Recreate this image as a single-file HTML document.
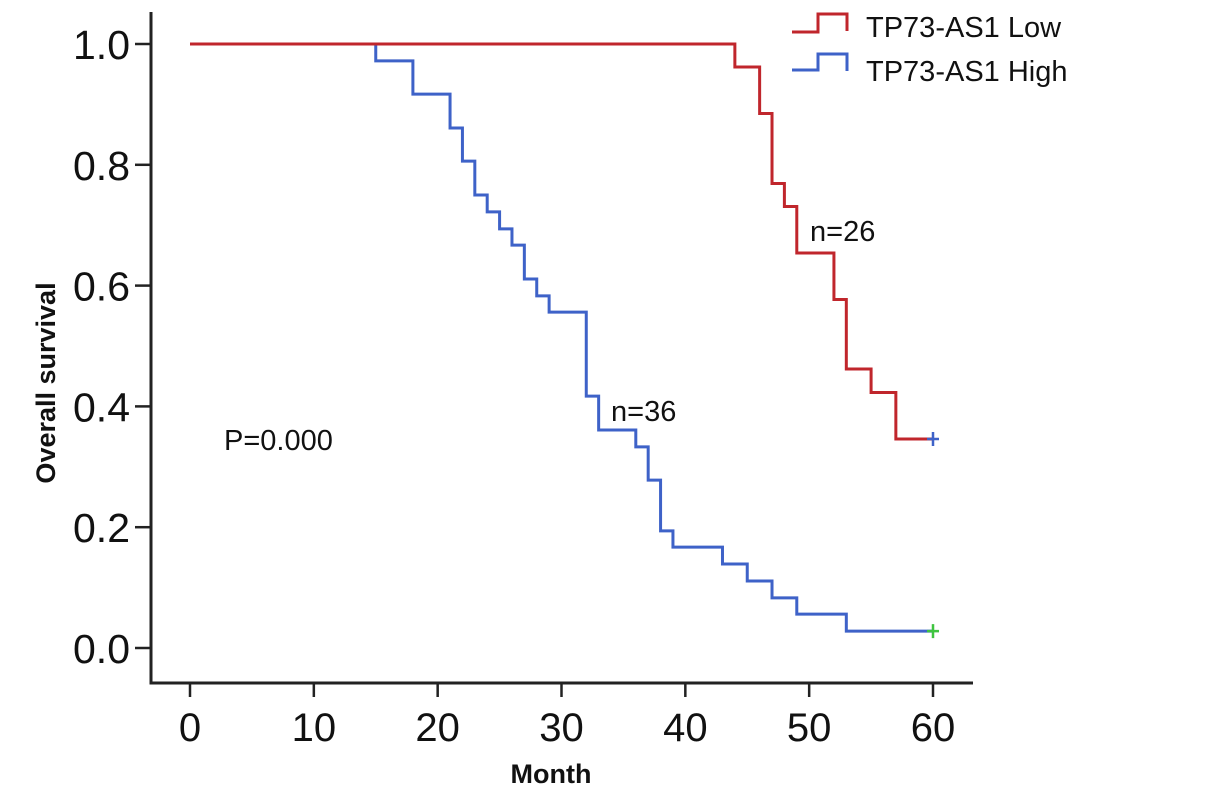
<!DOCTYPE html>
<html><head><meta charset="utf-8"><style>
html,body{margin:0;padding:0;background:#fff;}
svg text{font-family:"Liberation Sans",Arial,sans-serif;fill:#111;}
</style></head><body>
<svg id="chart" width="1205" height="796" viewBox="0 0 1205 796" xmlns="http://www.w3.org/2000/svg">
<g id="axes"></g>
<g id="series"></g>
<text x="551" y="783" font-size="27" font-weight="bold" text-anchor="middle">Month</text>
<text transform="translate(55,383) rotate(-90)" font-size="27" font-weight="bold" text-anchor="middle">Overall survival</text>
<text x="224" y="450" font-size="29">P=0.000</text>
<text x="810" y="241" font-size="29">n=26</text>
<text x="611" y="421" font-size="29">n=36</text>
<g>
  <path d="M792,32 H818 V14 H847 V31" fill="none" stroke="#c0262c" stroke-width="3"/>
  <text x="866" y="37" font-size="29">TP73-AS1 Low</text>
  <path d="M792,70 H818 V54 H847 V71" fill="none" stroke="#3e62c8" stroke-width="3"/>
  <text x="866" y="81" font-size="29">TP73-AS1 High</text>
</g>
</svg>
<script>
const xTicks = [0,10,20,30,40,50,60];
const yTicks = [0.0,0.2,0.4,0.6,0.8,1.0];
const yTickLabels = ["0.0","0.2","0.4","0.6","0.8","1.0"];
const lowTimes = [44,46,47,48,49,52,53,55,57];
const lowSurv = [0.962,0.885,0.769,0.731,0.654,0.577,0.462,0.423,0.346];
const highTimes = [15,18,21,22,23,24,25,26,27,28,29,32,33,36,37,38,39,43,45,47,49,53];
const highSurv = [0.972,0.917,0.861,0.806,0.75,0.722,0.694,0.667,0.611,0.583,0.556,0.417,0.361,0.333,0.278,0.194,0.167,0.139,0.111,0.083,0.056,0.028];
const endTime = 60;

const NS='http://www.w3.org/2000/svg';
const X = t => 190 + t*(933-190)/60;
const Y = v => 648 - v*604;
const axes = document.getElementById('axes');
const series = document.getElementById('series');
function mk(tag, attrs, parent){const e=document.createElementNS(NS,tag);for(const k in attrs)e.setAttribute(k,attrs[k]);parent.appendChild(e);return e;}

let e = mk('path',{d:'M151,12 V683 H973',fill:'none',stroke:'#222','stroke-width':3},axes);


xTicks.forEach(t=>{
  const l=mk('line',{x1:X(t),x2:X(t),y1:683,y2:697,stroke:'#222','stroke-width':2.5},axes);
  
  
  const tx=mk('text',{x:X(t),y:741,'font-size':40,'text-anchor':'middle'},axes);
  tx.textContent=String(t);
  
  
});
yTicks.forEach((v,i)=>{
  const l=mk('line',{x1:135,x2:151,y1:Y(v),y2:Y(v),stroke:'#222','stroke-width':2.5},axes);
  
  
  const tx=mk('text',{x:130,y:Y(v)+15,'font-size':41,'text-anchor':'end'},axes);
  tx.textContent=yTickLabels[i];
  
  
});
function stepPath(times, surv){
  let d='M'+X(0)+','+Y(1);
  times.forEach((t,i)=>{d+=' H'+X(t)+' V'+Y(surv[i]);});
  d+=' H'+X(endTime);
  return d;
}
const hp=mk('path',{d:stepPath(highTimes,highSurv),fill:'none',stroke:'#3e62c8','stroke-width':3},series);


const lp=mk('path',{d:stepPath(lowTimes,lowSurv),fill:'none',stroke:'#c0262c','stroke-width':3},series);


function cens(v,color,name){
  const g=mk('path',{d:`M${X(endTime)-6},${Y(v)} H${X(endTime)+6} M${X(endTime)},${Y(v)-7} V${Y(v)+7}`,stroke:color,'stroke-width':2.5,fill:'none'},series);
  
  
}
cens(lowSurv[lowSurv.length-1],'#3e62c8','low-censor-mark');
cens(highSurv[highSurv.length-1],'#3fc43f','high-censor-mark');
</script>
</body></html>
